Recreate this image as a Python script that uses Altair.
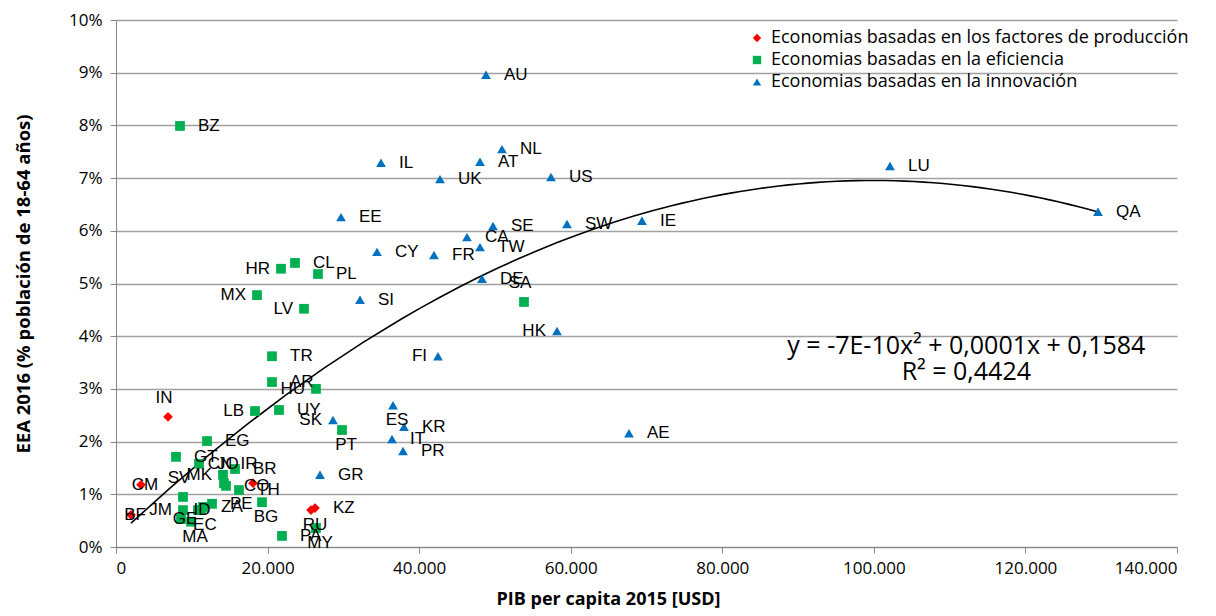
import altair as alt
import pandas as pd

series_names = [
    "Economias basadas en los factores de producción",
    "Economias basadas en la eficiencia",
    "Economias basadas en la innovación",
]
series_colors = ["#FF0000", "#00B050", "#0070C0"]
series_shapes = ["diamond", "square", "triangle-up"]

# Factor-driven economies
f_codes = ["BF", "CM", "IN", "IR", "RU", "KZ"]
f_gdp = [1979, 3299, 6861, 18077, 25730, 26258]
f_eea = [0.61, 1.18, 2.47, 1.21, 0.70, 0.74]
f_pos = ["c", "c", "a", "a", "b", "r"]

# Efficiency-driven economies
e_codes = ["BZ", "HR", "CL", "PL", "MX", "LV", "SA", "TR", "AR", "HU", "LB", "UY",
           "PT", "EG", "GT", "JO", "MK", "CN", "CO", "BR", "TH", "BG", "PE", "ZA",
           "EC", "ID", "SV", "JM", "GE", "MA", "PA", "MY"]
e_gdp = [8445, 21772, 23619, 26654, 18605, 24807, 53836, 20584, 20584, 26390, 18341, 21508,
         29821, 12007, 7917, 10952, 14119, 14250, 14514, 15702, 16230, 19265, 12667, 11480,
         11200, 10820, 8841, 8841, 8577, 9896, 21904, 26390]
e_eea = [7.99, 5.28, 5.39, 5.18, 4.78, 4.52, 4.65, 3.62, 3.13, 3.00, 2.58, 2.60,
         2.22, 2.01, 1.71, 1.58, 1.37, 1.21, 1.16, 1.48, 1.08, 0.85, 0.82, 0.76,
         0.70, 0.70, 0.95, 0.70, 0.53, 0.48, 0.21, 0.36]
e_pos = ["r", "l", "r", "r", "l", "l", "a", "r", "r", "l", "l", "r",
         "b", "r", "r", "r", "l", "a", "r", "r", "r", "b", "r", "r",
         "b", "c", "a", "l", "c", "b", "r", "b"]

# Innovation-driven economies
i_codes = ["AU", "NL", "IL", "AT", "UK", "US", "LU", "QA", "EE", "SE", "SW", "IE",
           "CA", "TW", "CY", "FR", "DE", "SI", "HK", "FI", "ES", "SK", "KR", "IT",
           "PR", "GR", "AE"]
i_gdp = [48822, 50932, 34967, 48030, 42752, 57398, 102129, 129575, 29689, 49745, 59510, 69406,
         46314, 48030, 34439, 41960, 48294, 32196, 58190, 42488, 36550, 28633, 38002, 36418,
         37870, 26918, 67690]
i_eea = [8.96, 7.55, 7.29, 7.31, 6.98, 7.02, 7.23, 6.36, 6.26, 6.09, 6.13, 6.19,
         5.88, 5.69, 5.60, 5.54, 5.09, 4.69, 4.10, 3.62, 2.69, 2.41, 2.28, 2.05,
         1.82, 1.37, 2.16]
i_pos = ["r", "r", "r", "r", "r", "r", "r", "r", "r", "r", "r", "r",
         "r", "r", "r", "r", "r", "r", "l", "l", "b", "l", "r", "r",
         "r", "r", "r"]

x_ticks = [0, 20000, 40000, 60000, 80000, 100000, 120000, 140000]
y_ticks = [0, 1, 2, 3, 4, 5, 6, 7, 8, 9, 10]

eq_text = ["y = -7E-10x² + 0,0001x + 0,1584", "R² = 0,4424"]
eq_x = [112200, 112200]
eq_y = [3.81, 3.32]

rows = []
for name, codes, gdp, eea, pos in [
    (series_names[0], f_codes, f_gdp, f_eea, f_pos),
    (series_names[1], e_codes, e_gdp, e_eea, e_pos),
    (series_names[2], i_codes, i_gdp, i_eea, i_pos),
]:
    for c, g, v, p in zip(codes, gdp, eea, pos):
        rows.append({"serie": name, "code": c, "gdp": g, "eea": v, "pos": p})
df = pd.DataFrame(rows)
df["order"] = range(len(df))

eq_df = pd.DataFrame({"text": eq_text, "gdp": eq_x, "eea": eq_y})

FONT_CAL = "Open Sans"
FONT_ARIAL = "Liberation Sans"

x_enc = alt.X("gdp:Q",
              scale=alt.Scale(domain=[0, 140000], nice=False),
              axis=alt.Axis(values=x_ticks, grid=False,
                            labelExpr="replace(format(datum.value, ','), ',', '.')",
                            title="PIB per capita 2015 [USD]",
                            labelFont=FONT_CAL, labelFontSize=17, labelColor="#000000",
                            labelPadding=7, titleFont=FONT_CAL, titleFontSize=18,
                            titleFontWeight="bold", titlePadding=14, titleColor="#000000",
                            titleX=492, titleAnchor="middle",
                            domainColor="#868686", tickColor="#868686", tickSize=6))
y_enc = alt.Y("eea:Q",
              scale=alt.Scale(domain=[0, 10], nice=False),
              axis=alt.Axis(values=y_ticks, labelExpr="datum.value + '%'",
                            title="EEA 2016 (% población de 18-64 años)",
                            gridColor="#A0A0A0", gridWidth=1.3,
                            labelFont=FONT_CAL, labelFontSize=17, labelColor="#000000",
                            labelPadding=8, titleFont=FONT_CAL, titleFontSize=18.5,
                            titleFontWeight="bold", titlePadding=35, titleColor="#000000",
                            domainColor="#868686", tickColor="#868686", tickSize=6))

legend = alt.Legend(title=None, orient="none", legendX=632, legendY=9,
                    labelFont=FONT_CAL, labelFontSize=18, labelColor="#000000",
                    labelLimit=0, symbolSize=70, rowPadding=4, labelOffset=5,
                    symbolStrokeWidth=0)

base = alt.Chart(df)

points = base.mark_point(filled=True, opacity=1, size=95).encode(
    x=x_enc,
    y=y_enc,
    color=alt.Color("serie:N",
                    scale=alt.Scale(domain=series_names, range=series_colors),
                    legend=legend),
    shape=alt.Shape("serie:N",
                    scale=alt.Scale(domain=series_names, range=series_shapes),
                    legend=legend),
    order=alt.Order("order:Q"),
)

label_styles = {
    "r": dict(align="left", dx=18, dy=0),
    "l": dict(align="right", dx=-11, dy=0),
    "a": dict(align="center", dx=-4, dy=-19),
    "b": dict(align="center", dx=4, dy=15),
    "c": dict(align="center", dx=4, dy=0),
}
label_layers = []
for key, st in label_styles.items():
    label_layers.append(
        base.transform_filter(alt.datum.pos == key).mark_text(
            font=FONT_ARIAL, fontSize=17, baseline="middle", color="#000000", **st
        ).encode(x="gdp:Q", y="eea:Q", text="code:N")
    )

trend = base.transform_regression("gdp", "eea", method="poly", order=2).mark_line(
    color="#000000", strokeWidth=1.6
).encode(x="gdp:Q", y="eea:Q")

eq = alt.Chart(eq_df).mark_text(font=FONT_CAL, fontSize=25, color="#000000",
                                align="center", baseline="middle").encode(
    x="gdp:Q", y="eea:Q", text="text:N")

chart = alt.layer(trend, points, *label_layers, eq).properties(
    width=1061, height=527,
    padding={"left": 108, "top": 12, "right": 20, "bottom": 66},
    autosize=alt.AutoSizeParams(type="none"),
).configure_view(stroke=None).configure_legend(symbolStrokeWidth=0)

chart.save("out.html", embed_options={"renderer": "svg", "actions": False})
